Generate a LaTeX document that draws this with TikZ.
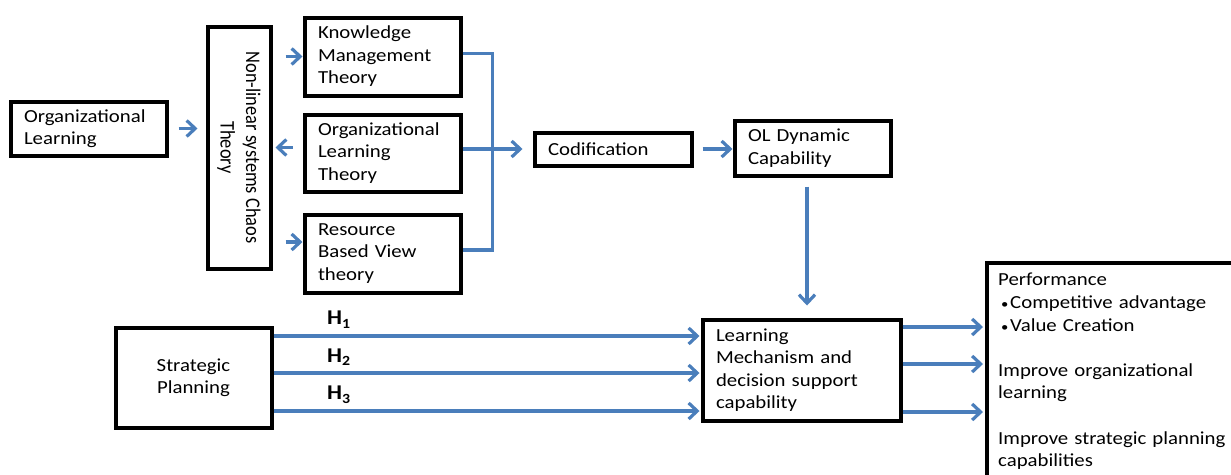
\documentclass[tikz,border=0pt]{standalone}
\usepackage{fontspec}
\setmainfont[FakeStretch=1.13]{Carlito}
\newfontfamily\uprightfont{Carlito}
\usetikzlibrary{arrows.meta,calc}
\definecolor{linkblue}{HTML}{4A7EBB}
\tikzset{
  box/.style={draw=black, line width=4pt, rectangle, inner xsep=13.5pt, inner ysep=0pt,
    align=left, font=\fontsize{18.4}{22.5}\selectfont},
  txt/.style={inner sep=0pt, align=left, font=\fontsize{18.4}{22.6}\selectfont},
  arr/.style={draw=linkblue, line width=3.2pt, -{Straight Barb[length=8.5pt,width=16pt]}},
  link/.style={draw=linkblue, line width=3.2pt},
  hlab/.style={font=\bfseries\fontsize{21}{24}\selectfont, inner sep=0pt, anchor=base west},
}
\newcommand{\hsub}[1]{H\raisebox{-3.7pt}{\fontsize{14}{14}\selectfont #1}}
\newcommand{\bulletitem}{\hspace*{3pt}\makebox[9pt][l]{\fontsize{13}{13}\selectfont\textbullet}}
\begin{document}
\begin{tikzpicture}[x=1pt,y=-1pt]
\useasboundingbox (0,0) rectangle (1231,474);

% boxes of the upper chain
\node[box, minimum width=156pt, minimum height=54pt, text width=129pt] (ol) at (88.5,128.5) {Organizational\\Learning};
\node[box, minimum width=63pt, minimum height=242pt] (nl) at (239,147.5) {};
\node[inner sep=0pt, align=center, font=\uprightfont\fontsize{18.4}{22.5}\selectfont, xscale=1.13, rotate=-90] (nltext) at (nl.center) {Non-linear systems Chaos\\Theory};
\node[box, minimum width=156pt, minimum height=78pt, text width=129pt] (km) at (382.5,56.5) {Knowledge\\Management\\Theory};
\node[box, minimum width=156pt, minimum height=77pt, text width=129pt] (olt) at (382.5,153) {Organizational\\Learning\\Theory};
\node[box, minimum width=156pt, minimum height=78pt, text width=129pt] (rbv) at (382.5,253.5) {Resource\\Based View\\theory};
\node[box, minimum width=157pt, minimum height=33pt, text width=130pt] (cod) at (613,149) {Codification};
\node[box, minimum width=156pt, minimum height=55pt, text width=129pt] (old) at (812.5,148) {OL Dynamic\\Capability};

% boxes of the lower chain
\node[box, align=center, minimum width=156pt, minimum height=100pt] (sp) at (193.5,377.5) {Strategic\\Planning};
\node[box, minimum width=198pt, minimum height=101pt, text width=171pt] (lm) at (801.5,370) {Learning\\Mechanism and\\decision support\\capability};
\node[box, anchor=north west, minimum width=300pt, minimum height=260pt] (perf) at (985,261) {};
\node[txt, anchor=north west, text width=230pt] (perftext) at (998,273) {Performance\\
\bulletitem Competitive advantage\\
\bulletitem Value Creation\\[22.6pt]
Improve organizational\\
learning\\[22.6pt]
Improve strategic planning\\
capabilities};

% connectors of the upper chain
\draw[arr, shorten <=10pt, shorten >=8pt] (ol.east) -- (ol.east -| nl.west);
\draw[arr, shorten <=13pt] (nl.east |- km.west) -- (km.west);
\draw[arr, shorten <=10pt, shorten >=3pt] (olt.west |- nl.east) -- (nl.east);
\coordinate (rbvin) at ($(rbv.west)+(0,-11.5)$);
\draw[arr, shorten <=13pt] (nl.east |- rbvin) -- (rbvin);
\coordinate (kmout) at ($(km.east)+(0,-3)$);
\coordinate (rbvout) at ($(rbv.east)+(0,-3.5)$);
\draw[link] (kmout) -- ++(30,0) |- (rbvout);
\draw[arr, shorten >=10pt] (olt.east |- cod.west) -- (cod.west);
\draw[arr, shorten <=9pt] (cod.east) -- (cod.east -| old.west);
\coordinate (dtop) at ($(old.south)+(-5.5,0)$);
\draw[arr, shorten <=9pt, shorten >=12pt] (dtop) -- (dtop |- lm.north);

% hypotheses H1-H3
\coordinate (h1) at (0,336);
\coordinate (h2) at (0,373);
\coordinate (h3) at (0,411);
\draw[arr, shorten >=1pt] (sp.east |- h1) -- (lm.west |- h1);
\draw[arr, shorten >=1pt] (sp.east |- h2) -- (lm.west |- h2);
\draw[arr, shorten >=1pt] (sp.east |- h3) -- (lm.west |- h3);
\node[hlab] (lab1) at (327,324.5) {\hsub{1}};
\node[hlab] (lab2) at (327,362) {\hsub{2}};
\node[hlab] (lab3) at (327,399.5) {\hsub{3}};

% outcomes
\coordinate (o1) at (0,327);
\coordinate (o2) at (0,364);
\coordinate (o3) at (0,412);
\draw[arr, shorten >=2pt] (lm.east |- o1) -- (perf.west |- o1);
\draw[arr, shorten >=2pt] (lm.east |- o2) -- (perf.west |- o2);
\draw[arr, shorten >=2pt] (lm.east |- o3) -- (perf.west |- o3);
\end{tikzpicture}
\end{document}
